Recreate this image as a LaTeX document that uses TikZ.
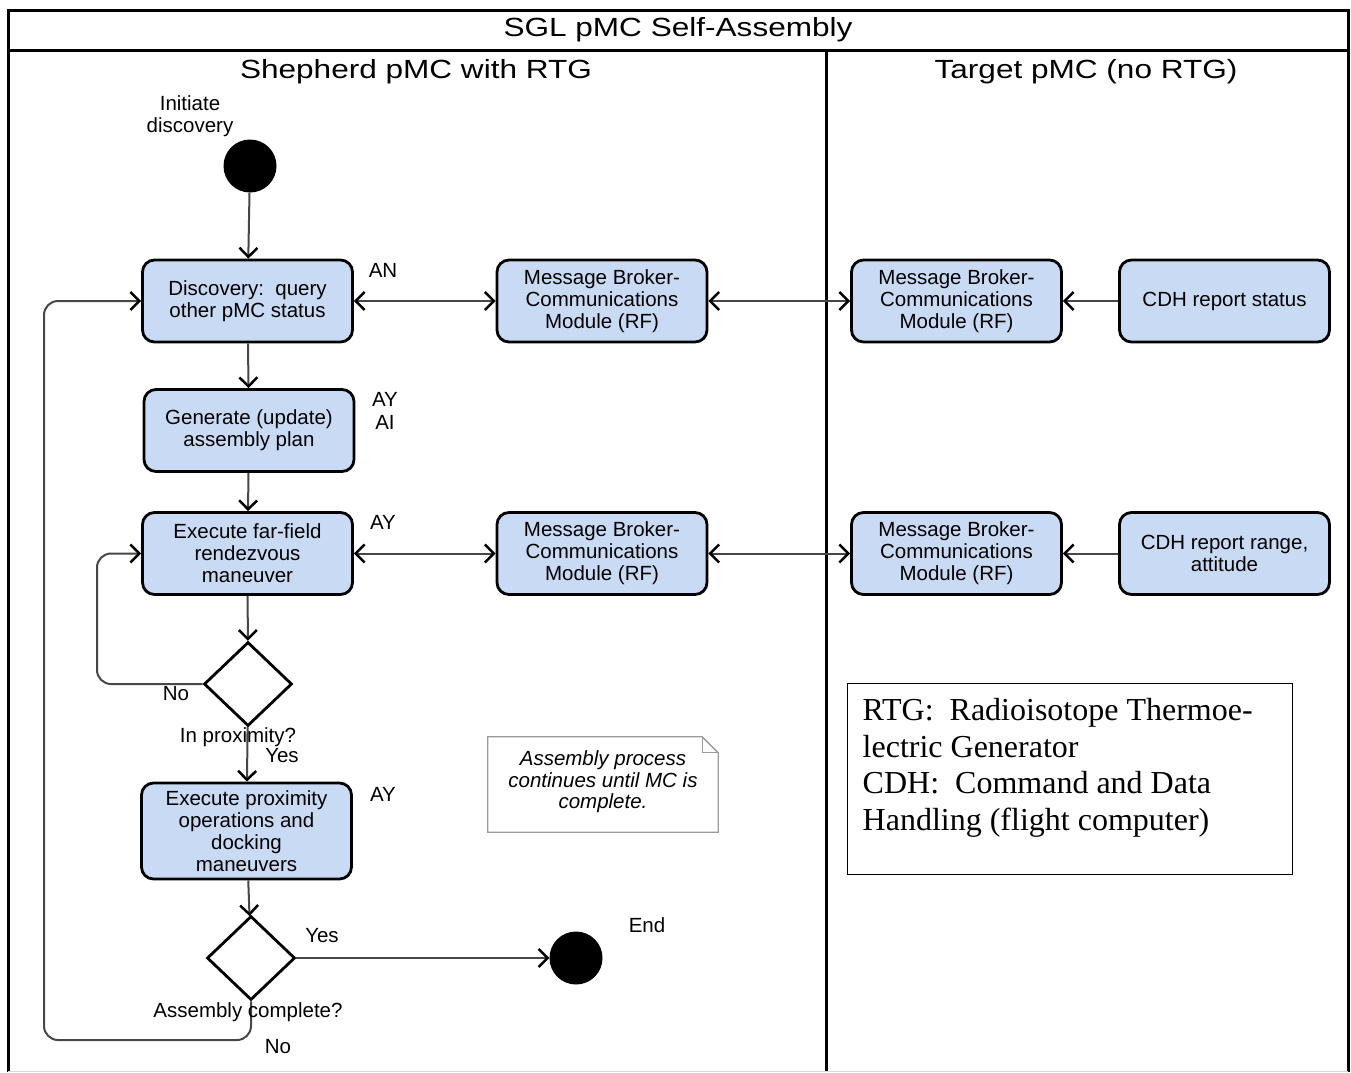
\documentclass[tikz,border=0pt]{standalone}
\usepackage{fontspec}
\setmainfont{Liberation Sans}
\newfontfamily\legfont{Liberation Serif}
\usetikzlibrary{arrows.meta,shapes.geometric,calc}
\definecolor{boxblue}{HTML}{C9DAF5}
\definecolor{linegray}{HTML}{474747}
\definecolor{notegray}{HTML}{9A9A9A}
\newcommand{\hstretch}[1]{\scalebox{1.2}[1]{#1}}
\begin{document}
\begin{tikzpicture}[x=1pt,y=-1pt,
  procbox/.style={draw=black, fill=boxblue, rounded corners=12pt, line width=2.8pt,
    minimum width=210pt, minimum height=82pt, align=center, inner sep=0pt,
    font=\fontsize{20.5}{22}\selectfont},
  dec/.style={draw=black, fill=white, shape=diamond, line width=2.8pt, minimum width=88pt,
    minimum height=84pt, inner sep=0pt},
  dot/.style={circle, fill=black, minimum size=53pt, inner sep=0pt},
  lbl/.style={font=\fontsize{20.5}{22.5}\selectfont, align=center, inner sep=0pt},
  head/.style={font=\fontsize{26.3}{30}\selectfont, inner sep=0pt},
  conn/.style={draw=linegray, line width=2pt, -{Straight Barb[length=9pt,width=18pt,line width=2.5pt,color=black]}},
  dconn/.style={draw=linegray, line width=2pt, {Straight Barb[length=9pt,width=18pt,line width=2.5pt,color=black]}-{Straight Barb[length=9pt,width=18pt,line width=2.5pt,color=black]}},
  frame/.style={draw=black, line width=3pt}
]
\useasboundingbox (0,0) rectangle (1351,1072);
% frame
\draw[frame] (8,1072) -- (8,10) -- (1348,10) -- (1348,1072);
\draw[frame] (8,50) -- (1348,50);
\draw[frame] (826,50) -- (826,1072);
\draw[draw=black!15, line width=1pt] (8,1071) -- (1348,1071);
\node[head] (title) at (678,30) {\hstretch{SGL pMC Self-Assembly}};
\node[head] (lane1) at (416,72) {\hstretch{Shepherd pMC with RTG}};
\node[head] (lane2) at (1086,72) {\hstretch{Target pMC (no RTG)}};

% start
\node[lbl] (initlbl) at (190,116) {Initiate\\discovery};
\node[dot] (start) at (250,166) {};

% boxes
\node[procbox] (disc) at (247.5,301) {Discovery:\ \ query\\other pMC status};
\node[procbox] (gen) at (249,430.5) {Generate (update)\\assembly plan};
\node[procbox] (far) at (247.5,553.5) {Execute far-field\\rendezvous\\maneuver};
\node[procbox, minimum height=96pt] (prox) at (246.5,831) {Execute proximity\\operations and\\docking\\maneuvers};
\node[procbox] (mb1) at (602,301) {Message Broker-\\Communications\\Module (RF)};
\node[procbox] (mb2) at (602,553.5) {Message Broker-\\Communications\\Module (RF)};
\node[procbox] (mb3) at (956.5,301) {Message Broker-\\Communications\\Module (RF)};
\node[procbox] (mb4) at (956.5,553.5) {Message Broker-\\Communications\\Module (RF)};
\node[procbox] (cdh1) at (1224.5,301) {CDH report status};
\node[procbox] (cdh2) at (1224.5,553.5) {CDH report range,\\attitude};

% decisions
\node[dec] (d1) at (248,684) {};
\node[dec] (d2) at (251,958) {};
\node[dot] (end) at (576,958) {};

% side labels
\node[lbl] (an) at (383,270) {AN};
\node[lbl] (ayai) at (385,411) {AY\\AI};
\node[lbl] (ay1) at (383,522) {AY};
\node[lbl] (ay2) at (383,794) {AY};
\node[lbl] (endlbl) at (647,925) {End};

% connectors
\draw[conn] (start) -- (disc);
\draw[conn] (disc) -- (gen);
\draw[conn] (gen) -- (far);
\draw[conn] (far) -- (d1);
\draw[conn] (d1) -- (prox);
\draw[conn] (prox) -- (d2);
\draw[conn] (d2) -- (end);
\draw[dconn] (disc) -- (mb1);
\draw[dconn] (mb1) -- (mb3);
\draw[dconn] (far) -- (mb2);
\draw[dconn] (mb2) -- (mb4);
\draw[conn] (cdh1) -- (mb3);
\draw[conn] (cdh2) -- (mb4);
\draw[conn, rounded corners=14pt] (d1.west) -- (97,684) -- (97,553.5) -- (far.west);
\draw[conn, rounded corners=14pt] (d2.south) -- (251,1040) -- (44,1040) -- (44,301) -- (disc.west);

% decision labels
\node[lbl] (no1) at (176,694) {No};
\node[lbl] (inprox) at (238,737) {In proximity?};
\node[lbl] (yes1) at (282,756) {Yes};
\node[lbl] (yes2) at (322,936) {Yes};
\node[lbl] (asmc) at (248,1012) {Assembly complete?};
\node[lbl] (no2) at (278,1047) {No};

% note
\node[minimum width=230pt, minimum height=95pt, inner sep=0pt] (note) at (603,784.5) {};
\draw[draw=notegray, line width=1.3pt, fill=white]
  (note.north west) -- ($(note.north east)+(-16,0)$) -- ($(note.north east)+(0,16)$) -- (note.south east) -- (note.south west) -- cycle;
\draw[draw=notegray, line width=1.3pt] ($(note.north east)+(-16,0)$) -- ($(note.north east)+(-16,16)$) -- ($(note.north east)+(0,16)$);
\node[lbl, font=\fontsize{20.5}{21.5}\selectfont\itshape] (notetext) at (603,782) {Assembly process\\continues until MC is\\complete.};

% legend
\node[draw=black, line width=1pt, minimum width=445pt, minimum height=191pt, inner sep=0pt] (leg) at (1069.5,778.5) {};
\node[anchor=north west, align=left, inner sep=0pt, font=\legfont\fontsize{32}{36.5}\selectfont] (legtext) at ($(leg.north west)+(16,16)$)
  {RTG:\ \ Radioisotope Thermoe-\\lectric Generator\\CDH:\ \ Command and Data\\Handling (flight computer)};
\end{tikzpicture}
\end{document}
